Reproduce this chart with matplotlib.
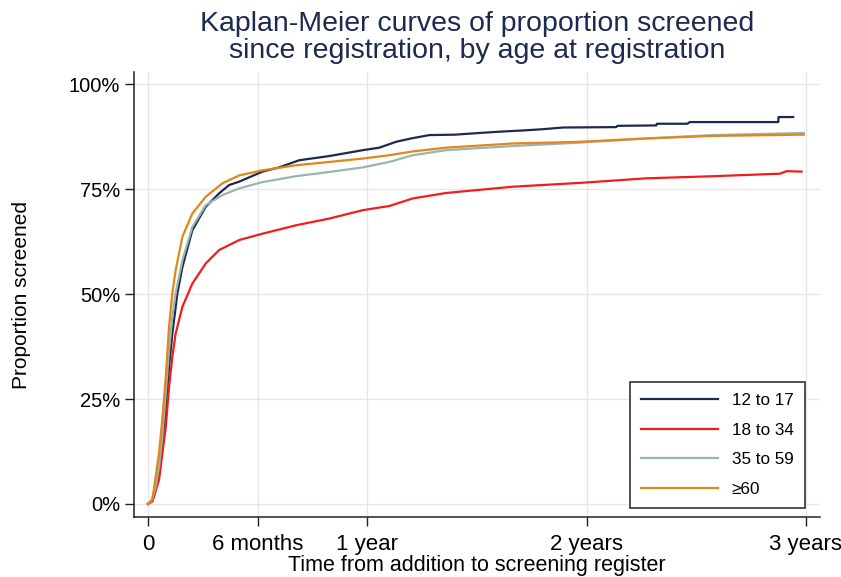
import numpy as np
import matplotlib
matplotlib.use('Agg')
import matplotlib.pyplot as plt

plt.rcParams['font.family'] = ['Liberation Sans', 'DejaVu Sans']

# time in years since registration, proportion screened
t_12_17 = [0, 0.020, 0.050, 0.081, 0.096, 0.111, 0.134, 0.157, 0.202, 0.263, 0.324, 0.370, 0.416,
           0.522, 0.598, 0.689, 0.826, 0.979, 1.055, 1.131, 1.20, 1.283, 1.40, 1.511,
           1.60, 1.709, 1.80, 1.892, 2.135, 2.14, 2.318, 2.32, 2.46, 2.47, 2.874, 2.875, 2.942]
p_12_17 = [0, 0.008, 0.065, 0.224, 0.327, 0.406, 0.502, 0.565, 0.652, 0.708, 0.740, 0.760, 0.768,
           0.792, 0.802, 0.819, 0.829, 0.843, 0.849, 0.863, 0.871, 0.879, 0.880, 0.884,
           0.887, 0.890, 0.893, 0.897, 0.898, 0.901, 0.902, 0.906, 0.906, 0.910, 0.910, 0.922, 0.922]

t_18_34 = [0, 0.020, 0.050, 0.081, 0.096, 0.111, 0.126, 0.157, 0.202, 0.263, 0.324, 0.416, 0.522,
           0.674, 0.826, 0.979, 1.100, 1.207, 1.359, 1.664, 1.968, 2.273, 2.577, 2.881, 2.912, 2.98]
p_18_34 = [0, 0.006, 0.057, 0.184, 0.279, 0.351, 0.406, 0.470, 0.525, 0.573, 0.605, 0.629, 0.644,
           0.664, 0.680, 0.700, 0.710, 0.728, 0.741, 0.756, 0.765, 0.776, 0.781, 0.787, 0.793, 0.792]

t_35_59 = [0, 0.015, 0.035, 0.050, 0.065, 0.081, 0.096, 0.111, 0.126, 0.157, 0.202, 0.263, 0.339,
           0.416, 0.522, 0.674, 0.826, 0.979, 1.100, 1.207, 1.359, 1.664, 1.968, 2.273, 2.577, 2.99]
p_35_59 = [0, 0.008, 0.041, 0.089, 0.160, 0.264, 0.367, 0.446, 0.502, 0.581, 0.660, 0.712, 0.736,
           0.752, 0.767, 0.781, 0.791, 0.802, 0.815, 0.831, 0.843, 0.853, 0.861, 0.871, 0.879, 0.884]

t_60 = [0, 0.020, 0.035, 0.050, 0.065, 0.081, 0.096, 0.111, 0.126, 0.157, 0.202, 0.263, 0.339,
        0.416, 0.522, 0.674, 0.826, 0.979, 1.100, 1.207, 1.359, 1.664, 1.968, 2.273, 2.577, 2.99]
p_60 = [0, 0.010, 0.065, 0.121, 0.200, 0.303, 0.422, 0.502, 0.557, 0.637, 0.692, 0.732, 0.764,
        0.783, 0.795, 0.807, 0.815, 0.823, 0.831, 0.840, 0.849, 0.859, 0.863, 0.871, 0.877, 0.880]

groups = ['12 to 17', '18 to 34', '35 to 59', '≥60']
colors = ['#1c2a4f', '#f21c1c', '#98b6ae', '#e0861a']

xticks = [0, 0.5, 1, 2, 3]
xticklabels = ['0', '6 months', '1 year', '2 years', '3 years']
yticks = [0, 0.25, 0.5, 0.75, 1.0]
yticklabels = ['0%', '25%', '50%', '75%', '100%']

fig = plt.figure(figsize=(8.41, 5.77), dpi=100)
ax = fig.add_axes([0.1593, 0.104, 0.8157, 0.771])

series = [(t_12_17, p_12_17), (t_18_34, p_18_34), (t_35_59, p_35_59), (t_60, p_60)]
for (t, p), lab, c in zip(series, groups, colors):
    ax.plot(t, p, color=c, lw=1.6, label=lab)

ax.set_xlim(-0.064, 3.064)
ax.set_ylim(-0.031, 1.029)
ax.set_xticks(xticks)
ax.set_xticklabels(xticklabels, fontsize=16)
ax.set_yticks(yticks)
ax.set_yticklabels(yticklabels, fontsize=14.5)
ax.tick_params(axis='both', direction='out', length=6.5, width=1, color='#222222')
ax.tick_params(axis='y', pad=3.5)
ax.tick_params(axis='x', pad=6)
ax.grid(True, color='#e6e6e6', lw=1)
ax.set_axisbelow(True)
for s in ['top', 'right']:
    ax.spines[s].set_visible(False)
for s in ['left', 'bottom']:
    ax.spines[s].set_color('#222222')
    ax.spines[s].set_linewidth(1.1)

ax.set_xlabel('Time from addition to screening register', fontsize=15.5, labelpad=0)
ax.set_ylabel('Proportion screened', fontsize=15, labelpad=27)
ax.set_title('Kaplan-Meier curves of proportion screened\nsince registration, by age at registration',
             fontsize=20.5, color='#1c2a4f', linespacing=1.05, pad=10)

leg = ax.legend(loc='lower right', bbox_to_anchor=(0.978, 0.02), borderaxespad=0,
                fontsize=12.3, handlelength=4.5, handletextpad=0.8, labelspacing=0.85,
                borderpad=0.65, fancybox=False, framealpha=1, edgecolor='#222222')
leg.get_frame().set_linewidth(1.1)

plt.savefig('out.png', dpi=100)
